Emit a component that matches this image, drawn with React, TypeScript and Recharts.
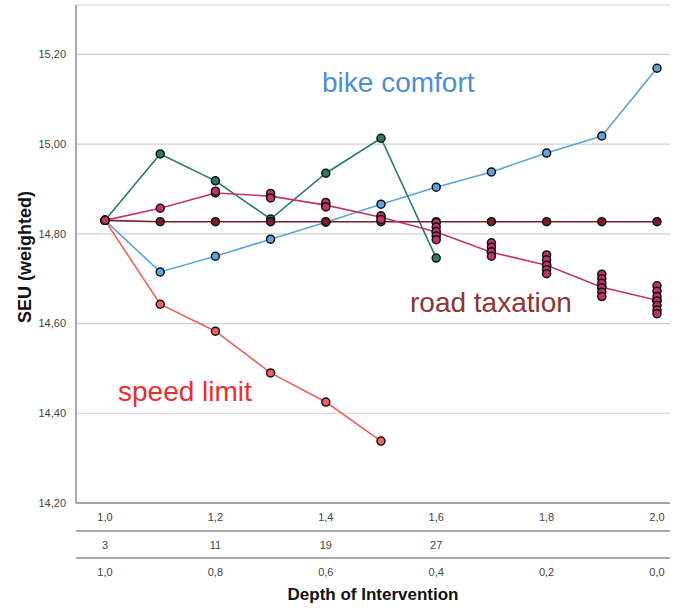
import {
  ComposedChart,
  Line,
  Scatter,
  XAxis,
  YAxis,
  CartesianGrid,
} from 'recharts';

// depth steps shared by all series
const depth = [1.0, 1.1, 1.2, 1.3, 1.4, 1.5, 1.6, 1.7, 1.8, 1.9, 2.0];

const bikeComfort = [14.83, 14.715, 14.75, 14.788, 14.826, 14.866, 14.904, 14.938, 14.98, 15.018, 15.169];
const cycleLanes = [14.83, 14.978, 14.918, 14.833, 14.935, 15.013, 14.746];
const speedLimit = [14.83, 14.643, 14.583, 14.49, 14.425, 14.338];
const roadTaxation = [14.83, 14.827, 14.827, 14.827, 14.827, 14.827, 14.827, 14.827, 14.827, 14.827, 14.827];
const parkingFees = [14.83, 14.857, 14.891, 14.884, 14.864, 14.837, 14.804, 14.759, 14.73, 14.681, 14.652];

// individual runs that spread around the parking fee means
const parkingRunsX = [1.2, 1.3, 1.3, 1.4, 1.4, 1.5, 1.5, 1.6, 1.6, 1.6, 1.6, 1.6, 1.7, 1.7, 1.7, 1.7, 1.8, 1.8, 1.8, 1.8, 1.8, 1.9, 1.9, 1.9, 1.9, 1.9, 1.9, 2.0, 2.0, 2.0, 2.0, 2.0, 2.0, 2.0];
const parkingRunsY = [14.895, 14.89, 14.88, 14.87, 14.86, 14.84, 14.832, 14.825, 14.815, 14.805, 14.795, 14.787, 14.78, 14.77, 14.76, 14.75, 14.753, 14.742, 14.73, 14.72, 14.711, 14.71, 14.7, 14.69, 14.68, 14.67, 14.66, 14.684, 14.672, 14.66, 14.65, 14.64, 14.63, 14.622];

const seuTicks = [14.2, 14.4, 14.6, 14.8, 15.0, 15.2];
const depthTicks = [1.0, 1.2, 1.4, 1.6, 1.8, 2.0];
const stepTicks = [1.0, 1.2, 1.4, 1.6];
const stepLabels = ['3', '11', '19', '27'];
const shareLabels = ['1,0', '0,8', '0,6', '0,4', '0,2', '0,0'];

const toPoints = (values: number[]) => values.map((y, i) => ({ x: depth[i], y }));
const parkingRuns = parkingRunsX.map((x, i) => ({ x, y: parkingRunsY[i] }));
// anchors so the secondary scales get a domain
const scaleAnchors = depthTicks.map((x) => ({ x, y: 14.2 }));

const comma = (v: number, digits: number) => v.toFixed(digits).replace('.', ',');

const FONT = '"Liberation Sans", Arial, sans-serif';
const tickStyle = { fill: '#444', fontSize: 11, fontFamily: FONT };
const axisStroke = { stroke: '#8c8c8c', strokeWidth: 1.5 };
const xPad = { left: 29, right: 13 };

const dot = (fill: string) => ({ r: 4, fill, stroke: '#111', strokeWidth: 1.5 });

const series = [
  { name: 'speed limit', color: '#f0605e', values: speedLimit },
  { name: 'bike comfort', color: '#5fa3dc', values: bikeComfort },
  { name: 'cycle lanes', color: '#2b7b6c', values: cycleLanes },
  { name: 'road taxation', color: '#7a1f2a', values: roadTaxation },
  { name: 'parking fees', color: '#c2336b', values: parkingFees },
];

const hidden = () => <g />;

export default function App() {
  return (
    <div style={{ position: 'absolute', left: 0, top: 0 }}>
      <ComposedChart width={680} height={608} margin={{ top: 5, right: 10, bottom: 0, left: 0 }}>
        <CartesianGrid xAxisId="a1" vertical={false} stroke="#cfcfcf" strokeWidth={1.2} />
        <XAxis
          xAxisId="a1"
          dataKey="x"
          type="number"
          domain={[1, 2]}
          ticks={depthTicks}
          padding={xPad}
          height={28}
          tickLine={false}
          tickSize={0}
          tickMargin={10}
          axisLine={axisStroke}
          tick={tickStyle}
          tickFormatter={(v) => comma(v, 1)}
        />
        <XAxis
          xAxisId="a2"
          dataKey="x"
          type="number"
          domain={[1, 2]}
          ticks={stepTicks}
          padding={xPad}
          height={27}
          tickLine={false}
          tickSize={0}
          tickMargin={10}
          axisLine={axisStroke}
          tick={tickStyle}
          tickFormatter={(v) => stepLabels[stepTicks.indexOf(v)] ?? ''}
        />
        <XAxis
          xAxisId="a3"
          dataKey="x"
          type="number"
          domain={[1, 2]}
          ticks={depthTicks}
          padding={xPad}
          height={50}
          tickLine={false}
          tickSize={0}
          tickMargin={10}
          axisLine={axisStroke}
          tick={tickStyle}
          tickFormatter={(v) => shareLabels[depthTicks.indexOf(v)] ?? ''}
          label={{
            content: ({ viewBox }: any) => (
              <text
                x={viewBox.x + viewBox.width / 2}
                y={viewBox.y + 42}
                textAnchor="middle"
                fontFamily={FONT}
                fontWeight="bold"
                fontSize={17}
                fill="#111"
              >
                Depth of Intervention
              </text>
            ),
          }}
        />
        <YAxis
          dataKey="y"
          type="number"
          domain={[14.2, 15.31]}
          ticks={seuTicks}
          width={76}
          tickLine={false}
          tickSize={0}
          tickMargin={10}
          axisLine={axisStroke}
          tick={tickStyle}
          tickFormatter={(v) => comma(v, 2)}
          label={{
            content: () => (
              <text
                x={25}
                y={257}
                transform="rotate(-90, 25, 257)"
                textAnchor="middle"
                dominantBaseline="central"
                fontFamily={FONT}
                fontWeight="bold"
                fontSize={18}
                fill="#111"
              >
                SEU (weighted)
              </text>
            ),
          }}
        />
        <Scatter xAxisId="a2" data={scaleAnchors} shape={hidden} isAnimationActive={false} />
        <Scatter xAxisId="a3" data={scaleAnchors} shape={hidden} isAnimationActive={false} />
        {series.map((s) => (
          <Line
            key={s.name}
            xAxisId="a1"
            data={toPoints(s.values)}
            dataKey="y"
            type="linear"
            stroke={s.color}
            strokeWidth={1.6}
            dot={dot(s.color)}
            activeDot={false}
            isAnimationActive={false}
          />
        ))}
        <Scatter
          xAxisId="a1"
          data={parkingRuns}
          shape={(p: any) => <circle cx={p.cx} cy={p.cy} r={4} fill="#c2336b" stroke="#111" strokeWidth={1.5} />}
          isAnimationActive={false}
        />
        <text x={322} y={92} fontFamily={FONT} fontSize={28} fill="#4f8fd0">
          bike comfort
        </text>
        <text x={410} y={312} fontFamily={FONT} fontSize={28} fill="#8e3434">
          road taxation
        </text>
        <text x={118} y={401} fontFamily={FONT} fontSize={28} fill="#e8302e">
          speed limit
        </text>
      </ComposedChart>
    </div>
  );
}
